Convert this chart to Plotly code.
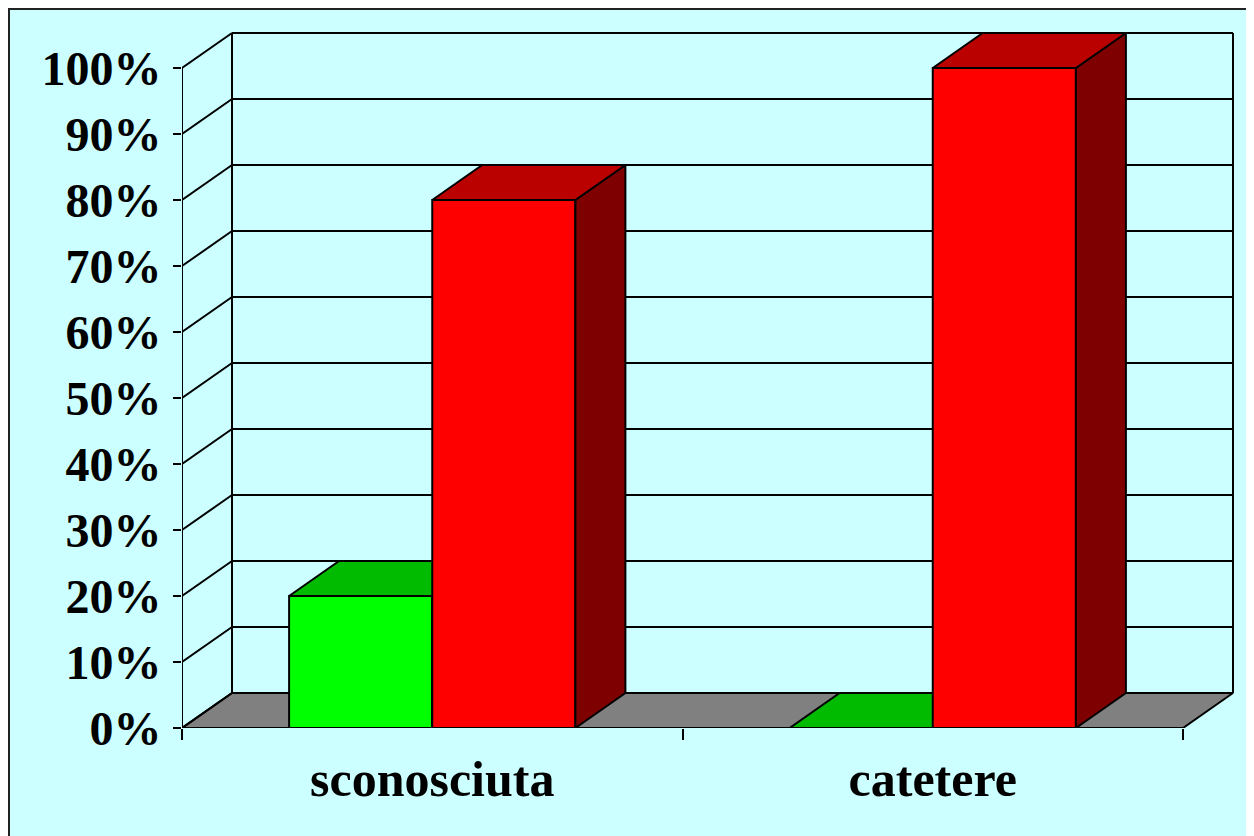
import plotly.graph_objects as go

# ---- data ----
categories = ["sconosciuta", "catetere"]
series_green = [20, 0]
series_red = [80, 100]
tick_values = [0, 10, 20, 30, 40, 50, 60, 70, 80, 90, 100]
tick_labels = [f"{v}%" for v in tick_values]

# ---- styles / geometry ----
W, H = 1254, 836
ML, MT = 174, 20
PX_PER_X = 500.5
PX_PER_Y = 6.6
PW, PH = 1058, 700
MR = W - ML - PW
MB = H - MT - PH
XMAX = PW / PX_PER_X
YMAX = PH / PX_PER_Y
DX = 50 / PX_PER_X
DY = 35 / PX_PER_Y
GAP = 0.214
BW = 0.286
BG = "#CCFFFF"
FONT = "Liberation Serif, Times New Roman, serif"
colors = {
    "green": ("#00FF00", "#00BB00", "#006000"),
    "red": ("#FF0000", "#BB0000", "#7F0000"),
}

fig = go.Figure()


def poly(xs, ys, fill, lw=2):
    fig.add_trace(go.Scatter(
        x=xs + [xs[0]], y=ys + [ys[0]], mode="lines", fill="toself",
        fillcolor=fill, line=dict(color="black", width=lw),
        hoverinfo="skip", showlegend=False))


def line(xs, ys, lw=2):
    fig.add_trace(go.Scatter(
        x=xs, y=ys, mode="lines", line=dict(color="black", width=lw),
        hoverinfo="skip", showlegend=False))


n = len(categories)
# floor
poly([0, n, n + DX, DX], [0, 0, DY, DY], "#808080")
# left wall diagonals
for v in tick_values:
    line([0, DX], [v, v + DY])
# back wall gridlines
for v in tick_values[1:]:
    line([DX, n + DX], [v + DY, v + DY])
# back wall verticals
line([DX, DX], [DY, tick_values[-1] + DY])
line([n + DX, n + DX], [DY, tick_values[-1] + DY])
# front value axis
line([0, 0], [0, tick_values[-1]])

# bars
for i in range(n):
    for j, (vals, key) in enumerate([(series_green, "green"), (series_red, "red")]):
        v = vals[i]
        front, top, side = colors[key]
        x0 = i + GAP + j * BW
        x1 = x0 + BW
        if v > 0:
            poly([x0, x1, x1, x0], [0, 0, v, v], front)
            poly([x1, x1 + DX, x1 + DX, x1], [0, DY, v + DY, v], side)
        poly([x0, x1, x1 + DX, x0 + DX], [v, v, v + DY, v + DY], top)

# front category axis line
line([0, n], [0, 0])

# outer border
fig.add_shape(type="rect", xref="paper", yref="paper",
              x0=(1 - ML) / PW, x1=(W + 10 - ML) / PW,
              y0=-(MB + 10) / PH, y1=(H - 1 - MB) / PH,
              line=dict(color="#222222", width=2), fillcolor="rgba(0,0,0,0)",
              layer="below")

fig.update_layout(
    width=W, height=H,
    margin=dict(l=ML, r=MR, t=MT, b=MB, pad=0),
    paper_bgcolor=BG, plot_bgcolor=BG,
    showlegend=False,
    xaxis=dict(
        range=[0, XMAX], showgrid=False, zeroline=False, showline=False,
        tickvals=[i + 0.5 for i in range(n)], ticktext=categories,
        ticks="", ticklabelstandoff=17,
        tickfont=dict(family=FONT, size=50, color="black", weight="bold"),
        minor=dict(tickvals=list(range(n + 1)), ticks="outside", ticklen=11,
                   tickwidth=2, tickcolor="black", showgrid=False),
    ),
    yaxis=dict(
        range=[0, YMAX], showgrid=False, zeroline=False, showline=False,
        tickvals=tick_values, ticktext=tick_labels,
        ticks="outside", ticklen=8, tickwidth=2, tickcolor="black",
        ticklabelstandoff=2,
        tickfont=dict(family=FONT, size=48, color="black", weight="bold"),
    ),
)

fig.write_html("out.html")
